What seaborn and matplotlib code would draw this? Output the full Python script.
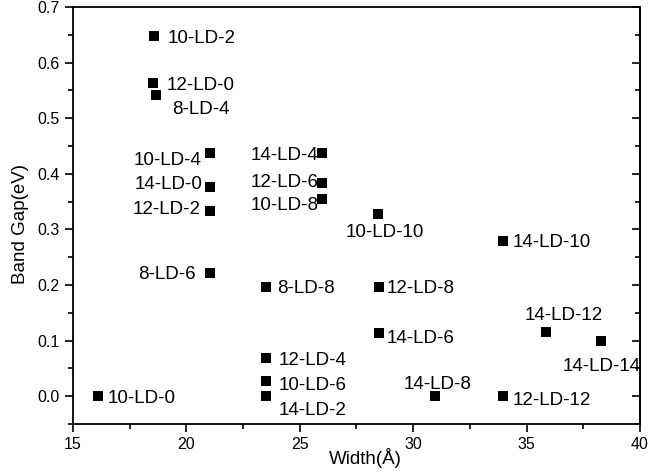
import pandas as pd
import seaborn as sns
import matplotlib.pyplot as plt
from matplotlib.ticker import MultipleLocator

# Datos
etiquetas = ['10-LD-2', '12-LD-0', '8-LD-4', '10-LD-4', '14-LD-0', '12-LD-2',
             '14-LD-4', '12-LD-6', '10-LD-8', '10-LD-10', '14-LD-10', '8-LD-6',
             '8-LD-8', '12-LD-8', '14-LD-12', '14-LD-14', '14-LD-6', '12-LD-4',
             '10-LD-6', '14-LD-2', '10-LD-0', '14-LD-8', '12-LD-12']
ancho = [18.6, 18.55, 18.65, 21.05, 21.05, 21.05,
         26.0, 26.0, 26.0, 28.45, 33.95, 21.05,
         23.5, 28.5, 35.85, 38.3, 28.5, 23.5,
         23.5, 23.5, 16.1, 30.95, 33.95]
gap = [0.648, 0.563, 0.542, 0.437, 0.376, 0.333,
       0.437, 0.383, 0.354, 0.327, 0.279, 0.221,
       0.197, 0.197, 0.115, 0.099, 0.113, 0.068,
       0.027, 0.0, 0.0, 0.0, 0.0]

# Posición de cada etiqueta respecto al punto (px, y hacia abajo) y alineación
offsets = {
    '10-LD-2': (13, 0, 'left'), '12-LD-0': (13, 0, 'left'), '8-LD-4': (17, 13, 'left'),
    '10-LD-4': (-9, 5, 'right'), '14-LD-0': (-8, -5, 'right'), '12-LD-2': (-9, -4, 'right'),
    '14-LD-4': (-4, 0, 'right'), '12-LD-6': (-4, -3, 'right'), '10-LD-8': (-4, 4, 'right'),
    '10-LD-10': (7, 16, 'center'), '14-LD-10': (10, -1, 'left'), '8-LD-6': (-14, -1, 'right'),
    '8-LD-8': (11, 0, 'left'), '12-LD-8': (8, 0, 'left'), '14-LD-12': (18, -19, 'center'),
    '14-LD-14': (0, 23, 'center'), '14-LD-6': (8, 3, 'left'), '12-LD-4': (13, 0, 'left'),
    '10-LD-6': (13, 2, 'left'), '14-LD-2': (13, 12, 'left'), '10-LD-0': (10, 0, 'left'),
    '14-LD-8': (3, -14, 'center'), '12-LD-12': (10, 2, 'left'),
}

df = pd.DataFrame({'Width': ancho, 'Gap': gap, 'Etiqueta': etiquetas})

sns.set_style('white')
plt.rcParams['font.family'] = ['Liberation Sans', 'DejaVu Sans']
plt.rcParams['axes.linewidth'] = 1.3
plt.rcParams['text.color'] = 'black'
plt.rcParams['axes.labelcolor'] = 'black'
plt.rcParams['xtick.color'] = 'black'
plt.rcParams['ytick.color'] = 'black'

fig = plt.figure(figsize=(6.68, 4.73), dpi=100)
ax = fig.add_axes([0.109, 0.1036, 0.849, 0.8814])

sns.scatterplot(data=df, x='Width', y='Gap', marker='s', s=42, color='black',
                edgecolor='black', linewidth=0, ax=ax, legend=False)

for lab, x, y in zip(etiquetas, ancho, gap):
    dx, dy, ha = offsets[lab]
    ax.annotate(lab, (x, y), xytext=(dx * 0.72, -dy * 0.72), textcoords='offset points',
                ha=ha, va='center_baseline', fontsize=13.5, color='black')

ax.set_xlim(15, 40)
ax.set_ylim(-0.05, 0.7)
ax.xaxis.set_major_locator(MultipleLocator(5))
ax.xaxis.set_minor_locator(MultipleLocator(2.5))
ax.yaxis.set_major_locator(MultipleLocator(0.1))
ax.yaxis.set_minor_locator(MultipleLocator(0.05))
ax.yaxis.set_major_formatter(plt.FormatStrFormatter('%.1f'))

ax.tick_params(which='both', direction='out', bottom=True, left=True, top=False, right=False,
               width=1.2, labelsize=11.5, colors='black')
ax.tick_params(which='major', length=6)
ax.tick_params(which='minor', length=3.5)

# eje derecho con ticks hacia dentro
sec = ax.secondary_yaxis('right')
sec.yaxis.set_major_locator(MultipleLocator(0.1))
sec.yaxis.set_minor_locator(MultipleLocator(0.05))
sec.tick_params(which='both', direction='in', labelright=False, width=1.2, colors='black')
sec.tick_params(which='major', length=6)
sec.tick_params(which='minor', length=3.5)

ax.set_xlabel('Width(Å)', fontsize=13.5)
ax.xaxis.set_label_coords(0.515, -0.057)
ax.set_ylabel('Band Gap(eV)', fontsize=13.5)
ax.yaxis.set_label_coords(-0.077, 0.48)

for sp in ax.spines.values():
    sp.set_color('black')

plt.savefig('out.png', dpi=100)
